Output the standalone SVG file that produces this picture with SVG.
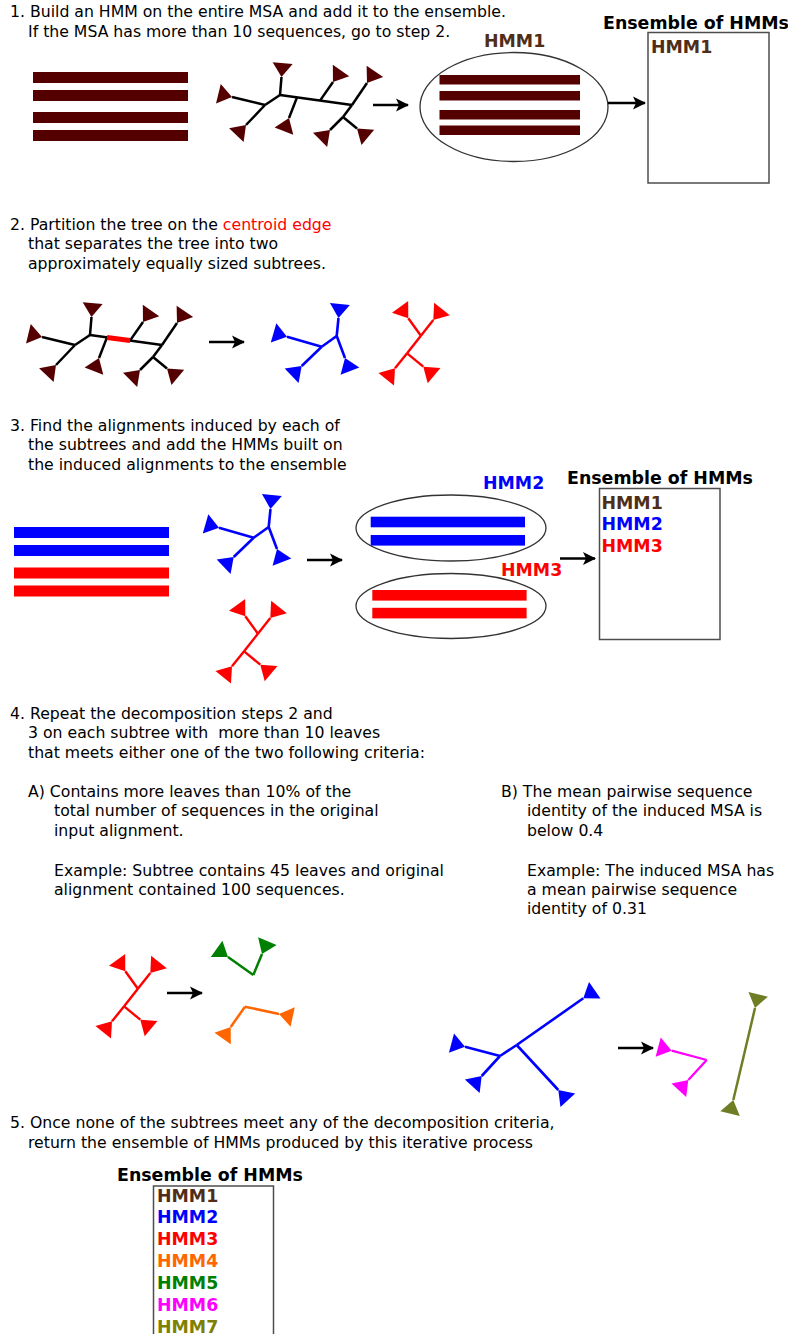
<svg xmlns="http://www.w3.org/2000/svg" width="788" height="1334" viewBox="0 0 788 1334">
<style>
text{font-family:"DejaVu Sans","Liberation Sans",sans-serif;}
.t{font-size:15.7px;fill:#000}
.b{font-size:17.4px;font-weight:bold}
.box{fill:#fff;stroke:#4d4d4d;stroke-width:1.5}
.ell{fill:none;stroke:#333;stroke-width:1.3}
.arr{stroke:#000;stroke-width:2.5;fill:none;marker-end:url(#ah)}
.kl{stroke:#000;stroke-width:2.5;fill:none}
.kl .lf{marker-end:url(#mdr)}
.bl{stroke:#0000ff;stroke-width:2.6;fill:none}
.bl .lf{marker-end:url(#mb)}
.rl{stroke:#ff0000;stroke-width:2.4;fill:none}
.rl .lf{marker-end:url(#mr)}
.gl{stroke:#008000;stroke-width:2.5;fill:none}
.gl .lf{marker-end:url(#mg)}
.ol{stroke:#ff6600;stroke-width:2.5;fill:none}
.ol .lf{marker-end:url(#mo)}
.ml{stroke:#ff00ff;stroke-width:2.3;fill:none}
.ml .lf{marker-end:url(#mm)}
.vl{stroke:#6f7d24;stroke-width:2.5;fill:none}
.vl .lf{marker-end:url(#mv)}
.c1{fill:#502d16}.c2{fill:#0000ff}.c3{fill:#ff0000}.c4{fill:#ff6600}.c5{fill:#008000}.c6{fill:#ff00ff}.c7{fill:#808000}
</style>
<defs>
<marker id="ah" markerUnits="userSpaceOnUse" orient="auto" overflow="visible" markerWidth="1" markerHeight="1"><path d="M1,0 L-12,-6.5 L-9,0 L-12,6.5 Z" fill="#000"/></marker>
<marker id="mdr" markerUnits="userSpaceOnUse" orient="auto" overflow="visible" markerWidth="1" markerHeight="1"><path d="M0,0 L14,-10 L14,10 Z" fill="#550000"/></marker>
<marker id="mb" markerUnits="userSpaceOnUse" orient="auto" overflow="visible" markerWidth="1" markerHeight="1"><path d="M0,0 L14,-10 L14,10 Z" fill="#0000ff"/></marker>
<marker id="mr" markerUnits="userSpaceOnUse" orient="auto" overflow="visible" markerWidth="1" markerHeight="1"><path d="M0,0 L14,-10 L14,10 Z" fill="#ff0000"/></marker>
<marker id="mg" markerUnits="userSpaceOnUse" orient="auto" overflow="visible" markerWidth="1" markerHeight="1"><path d="M0,0 L14,-10 L14,10 Z" fill="#008000"/></marker>
<marker id="mo" markerUnits="userSpaceOnUse" orient="auto" overflow="visible" markerWidth="1" markerHeight="1"><path d="M0,0 L14,-10 L14,10 Z" fill="#ff6600"/></marker>
<marker id="mm" markerUnits="userSpaceOnUse" orient="auto" overflow="visible" markerWidth="1" markerHeight="1"><path d="M0,0 L14,-10 L14,10 Z" fill="#ff00ff"/></marker>
<marker id="mv" markerUnits="userSpaceOnUse" orient="auto" overflow="visible" markerWidth="1" markerHeight="1"><path d="M0,0 L14,-10 L14,10 Z" fill="#6f7d24"/></marker>
</defs>

<!-- Step 1 -->
<g id="step1-text">
<text class="t" x="10" y="17">1. Build an HMM on the entire MSA and add it to the ensemble.</text>
<text class="t" x="28" y="37">If the MSA has more than 10 sequences, go to step 2.</text>
</g>
<g id="msa1" fill="#550000">
<rect x="33" y="72" width="155" height="11"/>
<rect x="33" y="90" width="155" height="11"/>
<rect x="33" y="112" width="155" height="11"/>
<rect x="33" y="130" width="155" height="11"/>
</g>
<g id="tree1" class="kl">
<path class="lf" d="M265,105 L232,97"/>
<path class="lf" d="M265,105 L246,125"/>
<path d="M265,105 L280,95"/>
<path class="lf" d="M280,95 L281.5,77"/>
<path d="M280,95 L352,105"/>
<path class="lf" d="M297,97.4 L289,118"/>
<path class="lf" d="M320,100.6 L333,82"/>
<path class="lf" d="M352,105 L367,83"/>
<path d="M352,105 L343,117"/>
<path class="lf" d="M343,117 L330,130"/>
<path class="lf" d="M343,117 L357,128.5"/>
</g>
<g id="hmm1-node">
<text class="b c1" x="484" y="47">HMM1</text>
<ellipse class="ell" cx="514" cy="107" rx="94" ry="54.5"/>
<g fill="#550000">
<rect x="439.5" y="75" width="140.5" height="9.5"/>
<rect x="439.5" y="91" width="140.5" height="9.5"/>
<rect x="439.5" y="110" width="140.5" height="9.5"/>
<rect x="439.5" y="125.5" width="140.5" height="9.5"/>
</g>
</g>
<g id="ensemble1">
<text class="b" x="603" y="29">Ensemble of HMMs</text>
<rect class="box" x="648" y="32.5" width="121" height="150.5"/>
<text class="b c1" x="651" y="52.5">HMM1</text>
</g>

<!-- Step 2 -->
<g id="step2-text">
<text class="t" x="10" y="230">2. Partition the tree on the <tspan fill="#ff0000">centroid edge</tspan></text>
<text class="t" x="28" y="249">that separates the tree into two</text>
<text class="t" x="28" y="269">approximately equally sized subtrees.</text>
</g>
<g id="tree2" class="kl" transform="translate(-190,240)">
<path class="lf" d="M265,105 L232,97"/>
<path class="lf" d="M265,105 L246,125"/>
<path d="M265,105 L280,95"/>
<path class="lf" d="M280,95 L281.5,77"/>
<path d="M280,95 L352,105"/>
<path class="lf" d="M297,97.4 L289,118"/>
<path class="lf" d="M320,100.6 L333,82"/>
<path class="lf" d="M352,105 L367,83"/>
<path d="M352,105 L343,117"/>
<path class="lf" d="M343,117 L330,130"/>
<path class="lf" d="M343,117 L357,128.5"/>
<path d="M297,97.4 L320,100.6" stroke="#ff0000" stroke-width="5"/>
</g>
<g id="tree2-blue" class="bl">
<path class="lf" d="M336.7,336 L338.5,318"/>
<path class="lf" d="M336.7,336 L345,358"/>
<path d="M336.7,336 L321.7,346.7"/>
<path class="lf" d="M321.7,346.7 L301.7,366"/>
<path class="lf" d="M321.7,346.7 L287,336.7"/>
</g>
<g id="tree2-red" class="rl">
<path class="lf" d="M420.9,335.7 L433.3,320"/>
<path d="M420.9,335.7 L407.1,353.3"/>
<path class="lf" d="M407.1,353.3 L395,368.3"/>
<path class="lf" d="M420.9,335.7 L408.3,318.3"/>
<path class="lf" d="M407.1,353.3 L423.3,366.7"/>
</g>

<!-- Step 3 -->
<g id="step3-text">
<text class="t" x="10" y="431">3. Find the alignments induced by each of</text>
<text class="t" x="28" y="450">the subtrees and add the HMMs built on</text>
<text class="t" x="28" y="470">the induced alignments to the ensemble</text>
</g>
<g id="msa3">
<rect x="14" y="527" width="155" height="11" fill="#0000ff"/>
<rect x="14" y="545" width="155" height="11" fill="#0000ff"/>
<rect x="14" y="567.5" width="155" height="11" fill="#ff0000"/>
<rect x="14" y="585.5" width="155" height="11" fill="#ff0000"/>
</g>
<g id="tree3-blue" class="bl" transform="translate(-68,191)">
<path class="lf" d="M336.7,336 L338.5,318"/>
<path class="lf" d="M336.7,336 L345,358"/>
<path d="M336.7,336 L321.7,346.7"/>
<path class="lf" d="M321.7,346.7 L301.7,366"/>
<path class="lf" d="M321.7,346.7 L287,336.7"/>
</g>
<g id="tree3-red" class="rl" transform="translate(-163,298)">
<path class="lf" d="M420.9,335.7 L433.3,320"/>
<path d="M420.9,335.7 L407.1,353.3"/>
<path class="lf" d="M407.1,353.3 L395,368.3"/>
<path class="lf" d="M420.9,335.7 L408.3,318.3"/>
<path class="lf" d="M407.1,353.3 L423.3,366.7"/>
</g>
<g id="hmm2-node">
<text class="b c2" x="483" y="489">HMM2</text>
<ellipse class="ell" cx="451" cy="528" rx="95" ry="33"/>
<rect x="370.7" y="516.7" width="154.3" height="10.6" fill="#0000ff"/>
<rect x="370.7" y="535" width="154.3" height="10.6" fill="#0000ff"/>
</g>
<g id="hmm3-node">
<text class="b c3" x="501" y="576">HMM3</text>
<ellipse class="ell" cx="451" cy="606" rx="95" ry="32.5"/>
<rect x="372.3" y="590" width="154.3" height="10.6" fill="#ff0000"/>
<rect x="372.3" y="607.8" width="154.3" height="10.6" fill="#ff0000"/>
</g>
<g id="ensemble3">
<text class="b" x="567" y="484">Ensemble of HMMs</text>
<rect class="box" x="599.5" y="488.5" width="120.5" height="151"/>
<text class="b c1" x="601.5" y="508.5">HMM1</text>
<text class="b c2" x="601.5" y="530">HMM2</text>
<text class="b c3" x="601.5" y="551.5">HMM3</text>
</g>

<!-- Step 4 -->
<g id="step4-text">
<text class="t" x="10" y="719">4. Repeat the decomposition steps 2 and</text>
<text class="t" x="28" y="738" style="white-space:pre">3 on each subtree with  more than 10 leaves</text>
<text class="t" x="28" y="758">that meets either one of the two following criteria:</text>
<text class="t" x="28" y="797">A) Contains more leaves than 10% of the</text>
<text class="t" x="54" y="816">total number of sequences in the original</text>
<text class="t" x="54" y="836">input alignment.</text>
<text class="t" x="54" y="876">Example: Subtree contains 45 leaves and original</text>
<text class="t" x="54" y="895">alignment contained 100 sequences.</text>
<text class="t" x="501" y="797">B) The mean pairwise sequence</text>
<text class="t" x="527" y="816">identity of the induced MSA is</text>
<text class="t" x="527" y="836">below 0.4</text>
<text class="t" x="527" y="876">Example: The induced MSA has</text>
<text class="t" x="527" y="895">a mean pairwise sequence</text>
<text class="t" x="527" y="914">identity of 0.31</text>
</g>
<g id="tree4-red" class="rl" transform="translate(-283,653)">
<path class="lf" d="M420.9,335.7 L433.3,320"/>
<path d="M420.9,335.7 L407.1,353.3"/>
<path class="lf" d="M407.1,353.3 L395,368.3"/>
<path class="lf" d="M420.9,335.7 L408.3,318.3"/>
<path class="lf" d="M407.1,353.3 L423.3,366.7"/>
</g>
<g id="tree4-green" class="gl">
<path class="lf" d="M253.3,975 L228,957"/>
<path class="lf" d="M253.3,975 L262,954"/>
</g>
<g id="tree4-orange" class="ol">
<path class="lf" d="M245,1006.7 L230.7,1027"/>
<path class="lf" d="M245,1006.7 L279,1014"/>
</g>
<g id="tree4-blue" class="bl">
<path class="lf" d="M516.7,1045 L583.3,998.3"/>
<path d="M516.7,1045 L500,1056"/>
<path class="lf" d="M516.7,1045 L558.3,1090"/>
<path class="lf" d="M500,1056 L481.7,1076"/>
<path class="lf" d="M500,1056 L465,1046.7"/>
</g>
<g id="tree4-magenta" class="ml">
<path class="lf" d="M706.7,1060 L671.7,1050.7"/>
<path class="lf" d="M706.7,1060 L688.3,1080"/>
</g>
<g id="tree4-olive" class="vl">
<path class="lf" d="M744.2,1054 L755,1008"/>
<path class="lf" d="M744.2,1054 L733.3,1100"/>
</g>

<!-- Step 5 -->
<g id="step5-text">
<text class="t" x="10" y="1128">5. Once none of the subtrees meet any of the decomposition criteria,</text>
<text class="t" x="28" y="1148">return the ensemble of HMMs produced by this iterative process</text>
</g>
<g id="ensemble5">
<text class="b" x="117" y="1181">Ensemble of HMMs</text>
<rect class="box" x="153.5" y="1186" width="120" height="160"/>
<text class="b c1" x="157" y="1201.5">HMM1</text>
<text class="b c2" x="157" y="1223.3">HMM2</text>
<text class="b c3" x="157" y="1245">HMM3</text>
<text class="b c4" x="157" y="1267">HMM4</text>
<text class="b c5" x="157" y="1289">HMM5</text>
<text class="b c6" x="157" y="1311">HMM6</text>
<text class="b c7" x="157" y="1332.5">HMM7</text>
</g>

<g id="connectors">
<path class="arr" d="M373,105 L408,105"/>
<path class="arr" d="M608,103 L645,103"/>
<path class="arr" d="M209,342 L244,342"/>
<path class="arr" d="M307,560 L342,560"/>
<path class="arr" d="M560,558.5 L595,558.5"/>
<path class="arr" d="M167,993 L202,993"/>
<path class="arr" d="M618,1048 L653,1048"/>
</g>
</svg>
